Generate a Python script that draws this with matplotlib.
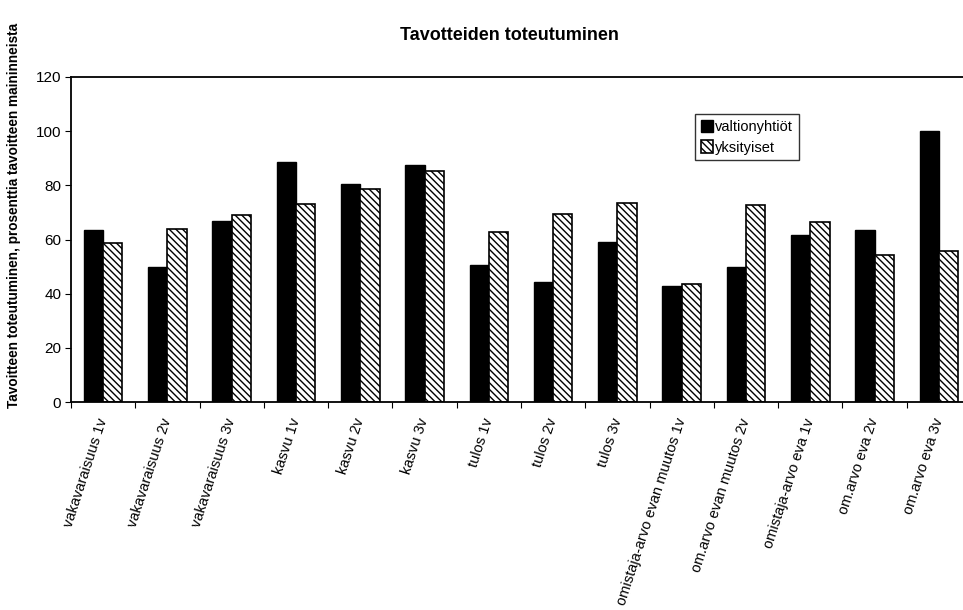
import numpy as np
import matplotlib.pyplot as plt

plt.rcParams['font.family'] = ['Liberation Sans', 'DejaVu Sans']
plt.rcParams['hatch.linewidth'] = 1.0

# Category labels and series values
categories = [
    'vakavaraisuus 1v', 'vakavaraisuus 2v', 'vakavaraisuus 3v',
    'kasvu 1v', 'kasvu 2v', 'kasvu 3v',
    'tulos 1v', 'tulos 2v', 'tulos 3v',
    'omistaja-arvo evan muutos 1v', 'om.arvo evan muutos 2v',
    'omistaja-arvo eva 1v', 'om.arvo eva 2v', 'om.arvo eva 3v',
]
valtionyhtiot = [63.5, 50.0, 66.8, 88.6, 80.5, 87.5, 50.7, 44.2, 59.1, 43.0, 50.0, 61.7, 63.6, 100.0]
yksityiset = [58.8, 64.0, 68.9, 73.1, 78.5, 85.2, 62.7, 69.5, 73.3, 43.4, 72.7, 66.4, 54.2, 55.8]
y_ticks = [0, 20, 40, 60, 80, 100, 120]

fig = plt.figure(figsize=(9.63, 6.10), dpi=100)
ax = fig.add_axes([71 / 963, 1 - 402 / 610, 900 / 963, 325 / 610])

x = np.arange(len(categories))
w = 0.30
ax.bar(x - w / 2, valtionyhtiot, w, color='black', edgecolor='black',
       linewidth=1, label='valtionyhtiöt')
ax.bar(x + w / 2, yksityiset, w, color='white', edgecolor='black',
       hatch='\\\\\\\\\\', linewidth=1.2, label='yksityiset')

ax.set_xlim(-0.5, len(categories) - 0.5)
ax.set_ylim(0, 120)
ax.set_yticks(y_ticks)
ax.tick_params(axis='y', labelsize=11, length=4, width=0.8, pad=3)

# category labels at group centres, tick marks between groups
ax.set_xticks(x)
ax.set_xticklabels(categories, rotation=72, ha='right', va='center',
                   rotation_mode='anchor', fontsize=10.5)
ax.tick_params(axis='x', length=0, pad=12)
ax.set_xticks(np.arange(len(categories) + 1) - 0.5, minor=True)
ax.tick_params(axis='x', which='minor', length=4, width=0.8)

for side in ['left', 'top', 'bottom']:
    ax.spines[side].set_linewidth(1.3)
ax.spines['right'].set_visible(False)

fig.text(509 / 963, 1 - 35 / 610, 'Tavotteiden toteutuminen',
         ha='center', va='center', fontsize=13, fontweight='bold')
fig.text(14 / 963, 1 - 215 / 610,
         'Tavoitteen toteutuminen, prosenttia tavoitteen maininneista',
         rotation=90, ha='center', va='center', fontsize=9.8, fontweight='bold')

leg = ax.legend(loc='upper left', bbox_to_anchor=((695 - 71) / 900, (402 - 114) / 325),
                fontsize=10.5, frameon=True, fancybox=False, edgecolor='black',
                handlelength=0.8, handleheight=0.9, handletextpad=0.2,
                borderpad=0.4, labelspacing=0.45, borderaxespad=0)
leg.get_frame().set_linewidth(1)

fig.savefig('out.png', dpi=100)
